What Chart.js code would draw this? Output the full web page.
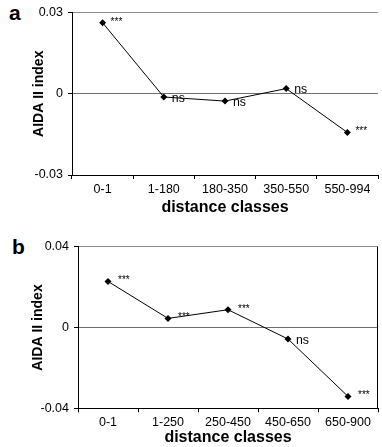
<!DOCTYPE html>
<html>
<head>
<meta charset="utf-8">
<script src="https://cdn.jsdelivr.net/npm/chart.js@4"></script>
<style>
  body { margin: 0; background: #fff; width: 382px; height: 447px; overflow: hidden; position: relative;
         font-family: "Liberation Sans", Arial, sans-serif; }
  .panel { position: absolute; left: 0; }
  .tag { position: absolute; font-weight: bold; font-size: 21px; line-height: 1; color: #000; }
</style>
</head>
<body>
<div class="tag" style="left:9px; top:2px;">a</div>
<div class="tag" style="left:12px; top:235.5px;">b</div>
<canvas id="chartA" class="panel" style="top:0" width="382" height="220"></canvas>
<canvas id="chartB" class="panel" style="top:220px" width="382" height="227"></canvas>
<script>
// panel a
const classesA = ['0-1', '1-180', '180-350', '350-550', '550-994'];
const valuesA = [0.0262, -0.0012, -0.0027, 0.0019, -0.0143];
const signifA = ['***', 'ns', 'ns', 'ns', '***'];
const ticksA = [-0.03, 0, 0.03];

// panel b
const classesB = ['0-1', '1-250', '250-450', '450-650', '650-900'];
const valuesB = [0.0228, 0.0045, 0.0088, -0.0057, -0.0341];
const signifB = ['***', '***', '***', 'ns', '***'];
const ticksB = [-0.04, 0, 0.04];

const FONT = '"Liberation Sans", Arial, sans-serif';

// significance marks next to each point + optional right frame line
const sigLabels = {
  id: 'sigLabels',
  beforeDatasetsDraw(chart, args, opts) {
    if (!opts.rightBorder) return;
    const ctx = chart.ctx, a = chart.chartArea;
    ctx.save();
    ctx.strokeStyle = '#000';
    ctx.lineWidth = 1;
    ctx.beginPath();
    ctx.moveTo(a.right - 0.5, a.top);
    ctx.lineTo(a.right - 0.5, a.bottom);
    ctx.stroke();
    ctx.restore();
  },
  afterDatasetsDraw(chart, args, opts) {
    const ctx = chart.ctx;
    const pts = chart.getDatasetMeta(0).data;
    ctx.save();
    ctx.fillStyle = '#000';
    ctx.textAlign = 'left';
    ctx.textBaseline = 'alphabetic';
    opts.labels.forEach((t, i) => {
      const p = pts[i];
      if (t === 'ns') {
        ctx.font = '12.3px ' + FONT;
        ctx.fillText(t, p.x + 8, p.y + 4.5);
      } else {
        ctx.font = '10px ' + FONT;
        ctx.fillText(t, p.x + opts.starDx, p.y + 2);
      }
    });
    ctx.restore();
  }
};

function makeChart(id, labels, values, signif, yTicks, lay) {
  const lim = yTicks[yTicks.length - 1];
  return new Chart(document.getElementById(id), {
    type: 'line',
    data: {
      labels: labels,
      datasets: [{
        data: values,
        borderColor: '#000',
        borderWidth: 1,
        backgroundColor: '#000',
        pointStyle: 'rectRot',
        pointRadius: 3.5,
        pointBorderWidth: 0,
        tension: 0,
        clip: false
      }]
    },
    options: {
      responsive: false,
      animation: false,
      devicePixelRatio: 1,
      layout: { padding: lay.padding },
      plugins: {
        legend: { display: false },
        tooltip: { enabled: false },
        sigLabels: { labels: signif, starDx: lay.starDx, rightBorder: lay.rightBorder }
      },
      scales: {
        x: {
          offset: true,
          grid: { offset: true, drawOnChartArea: false, tickLength: 4, tickColor: '#000' },
          border: { color: '#000', width: 1 },
          ticks: { color: '#000', padding: 3, maxRotation: 0, autoSkip: false, font: { family: FONT, size: 12.5 } },
          title: { display: true, text: 'distance classes', color: '#000',
                   padding: { top: 0, bottom: lay.xTitlePad }, font: { family: FONT, size: 16, weight: 'bold' } },
          afterFit(s) { s.height = lay.xHeight; }
        },
        y: {
          min: -lim,
          max: lim,
          afterBuildTicks(s) { s.ticks = yTicks.map(v => ({ value: v })); },
          grid: {
            tickLength: 4,
            tickColor: '#000',
            color: c => c.tick.value === 0 ? '#707070' : (c.tick.value > 0 ? '#8c8c8c' : 'rgba(0,0,0,0)')
          },
          border: { color: '#000', width: 1 },
          ticks: { color: '#000', padding: 5, font: { family: FONT, size: 12.5 },
                   callback: v => v === 0 ? '0' : v.toFixed(2) },
          title: { display: true, text: 'AIDA II index', color: '#000',
                   padding: { top: lay.yTitlePad, bottom: 0 }, font: { family: FONT, size: 14, weight: 'bold' } },
          afterFit(s) { s.width = lay.yWidth; }
        }
      }
    },
    plugins: [sigLabels]
  });
}

makeChart('chartA', classesA, valuesA, signifA, ticksA, {
  padding: { top: 10, right: 0, left: 0, bottom: 0 },
  yWidth: 72, xHeight: 45, xTitlePad: 2.7, yTitlePad: 31, starDx: 8, rightBorder: false
});
makeChart('chartB', classesB, valuesB, signifB, ticksB, {
  padding: { top: 26.7, right: 3, left: 0, bottom: 0 },
  yWidth: 78, xHeight: 38.7, xTitlePad: 0, yTitlePad: 29.5, starDx: 10, rightBorder: true
});
</script>
</body>
</html>
